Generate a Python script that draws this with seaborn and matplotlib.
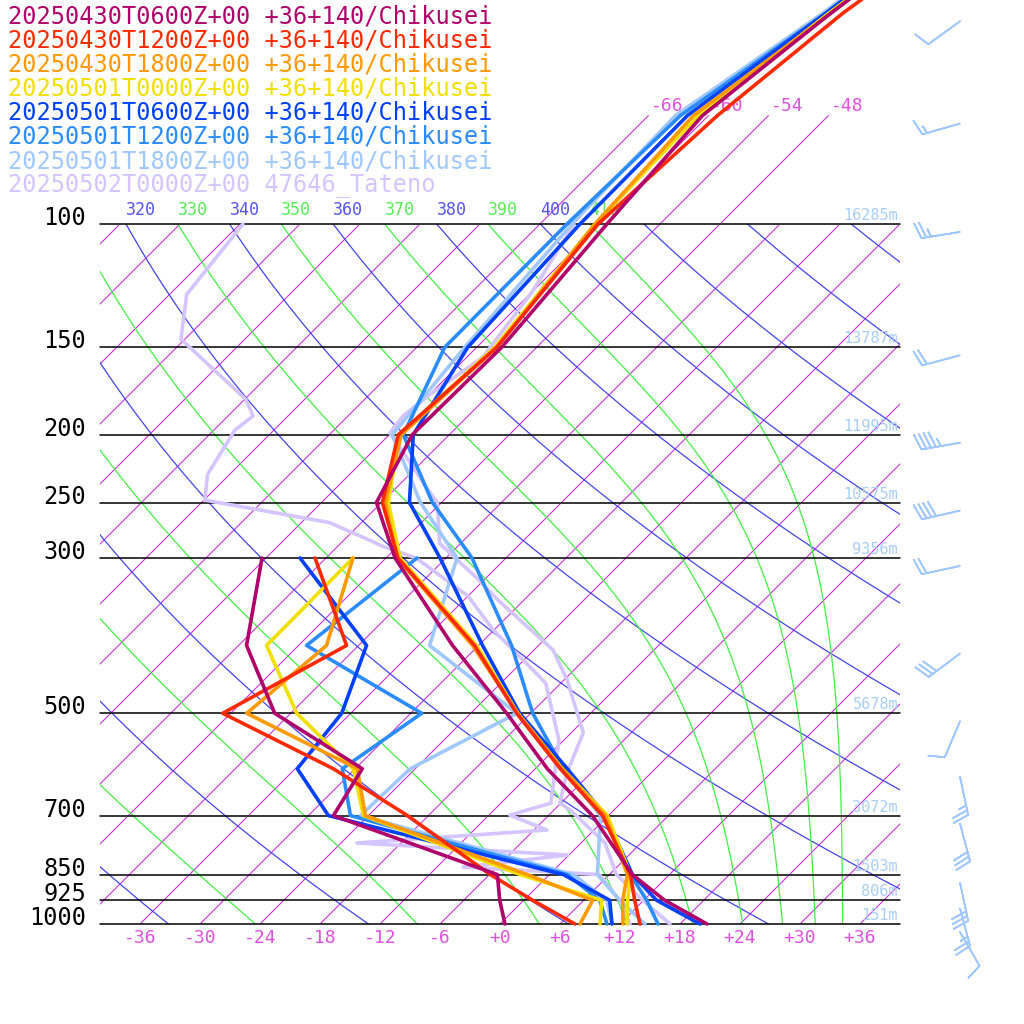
import numpy as np
import pandas as pd
import matplotlib
matplotlib.use("Agg")
import matplotlib.pyplot as plt
import seaborn as sns

# ---- data ----
p_std = [1000, 925, 850, 700, 600, 500, 400, 300, 250, 200, 150, 100, 70, 50, 30]
p_dew = [1000, 925, 850, 700, 600, 500, 400, 300]

t_0430_06 = [20.7, 14.1, 8.3, -1.6, -10.8, -20.4, -32.6, -47.1, -54.5, -57.7, -57.5, -59.3, -60.6, -58.0, -53.0]
td_0430_06 = [0.5, -2.4, -5.2, -27.5, -29.3, -43.6, -53.2, -60.4]
t_0430_12 = [14.0, 11.1, 8.1, -0.6, -9.5, -19.4, -30.4, -46.8, -53.9, -59.1, -58.0, -60.2, -59.1, -56.8, -51.0]
td_0430_12 = [7.5, 0.9, -5.9, -20.1, -32.2, -48.8, -43.2, -55.1]
t_0430_18 = [12.3, 9.9, 7.8, -0.3, -9.3, -19.3, -30.6, -46.9, -53.6, -58.8, -58.0, -60.5, -61.5, -58.0, -53.0]
td_0430_18 = [8.0, 6.9, -2.2, -24.3, -29.8, -46.4, -45.2, -51.3]
t_0501_00 = [12.7, 10.4, 8.1, -0.1, -9.3, -19.3, -30.2, -46.6, -53.3, -59.0, -58.2, -60.5, -61.0, -58.2, -53.0]
td_0501_00 = [10.0, 7.8, -2.9, -24.5, -30.2, -41.4, -51.2, -51.3]
t_0501_06 = [20.0, 13.3, 8.3, -0.3, -8.8, -19.1, -29.6, -42.6, -51.2, -57.6, -60.9, -62.0, -62.1, -58.5, -53.5]
td_0501_06 = [11.2, 8.6, 1.4, -28.0, -35.8, -36.9, -41.2, -56.6]
t_0501_12 = [15.8, 12.3, 8.1, -0.5, -9.2, -17.8, -26.7, -39.4, -48.9, -58.6, -63.2, -63.3, -62.8, -58.5, -53.5]
td_0501_12 = [10.7, 7.6, 1.8, -25.8, -31.3, -28.9, -47.2, -44.9]
t_0501_18 = [14.5, 9.6, 4.8, -0.8, -9.2, -19.4, -34.9, -40.9, -50.1, -59.7, -61.2, -62.8, -63.3, -58.8, -54.0]
td_0501_18 = [11.2, 8.3, 2.4, -24.8, -24.5, -19.4]

p_tat_t = [1000, 925, 850, 766, 687, 672, 609, 533, 448, 406, 344, 322, 286, 250, 238, 212, 199, 188, 176, 155, 125, 100]
t_tat = [17.0, 11.9, 6.7, 2.4, -4.4, -6.1, -8.4, -10.8, -17.7, -22.1, -32.7, -36.6, -44.1, -48.4, -51.0, -56.8, -60.1, -60.5, -60.0, -58.4, -60.0, -62.6]
p_tat_td = [1000, 925, 850, 829, 797, 766, 734, 699, 672, 546, 453, 438, 380, 340, 300, 289, 283, 267, 248, 228, 197, 188, 178, 146, 126, 100]
td_tat = [13.0, 9.6, 5.0, -9.4, -0.1, -22.4, -4.7, -9.9, -7.0, -12.5, -19.5, -21.5, -30.1, -36.0, -45.0, -49.4, -51.4, -57.2, -71.9, -74.2, -75.9, -75.5, -77.9, -90.4, -94.3, -95.7]

names = ["20250430T0600Z+00 +36+140/Chikusei", "20250430T1200Z+00 +36+140/Chikusei",
         "20250430T1800Z+00 +36+140/Chikusei", "20250501T0000Z+00 +36+140/Chikusei",
         "20250501T0600Z+00 +36+140/Chikusei", "20250501T1200Z+00 +36+140/Chikusei",
         "20250501T1800Z+00 +36+140/Chikusei", "20250502T0000Z+00 47646_Tateno"]
colors = ["#b0006a", "#ff2a00", "#ff9900", "#f0e000", "#0040ff", "#2a8cff", "#a0c8ff", "#d4c4ff"]

levels = [1000, 925, 850, 700, 500, 300, 250, 200, 150, 100]
heights = ["151m", "806m", "1503m", "3072m", "5678m", "9356m", "10575m", "11995m", "13787m", "16285m"]

wind_p = [1000, 925, 850, 700, 600, 500, 400, 300, 250, 200, 150, 100, 70, 50]
wind_dir = [150, 165, 168, 165, 168, 203, 233, 258, 257, 260, 255, 261, 254, 234]
wind_kt = [10, 25, 30, 30, 25, 10, 30, 20, 40, 45, 20, 25, 15, 10]

# ---- skew-T pixel mapping ----
def py(p):
    return 924 - 700 * np.log10(1000 / np.asarray(p, float))

def px(t, p):
    return 500 + 10 * (np.asarray(t, float) + 70 * np.log10(1000 / np.asarray(p, float)))

sns.set_style("white")
plt.rcParams["font.family"] = ["DejaVu Sans Mono"]
fig = plt.figure(figsize=(10.24, 10.24), dpi=100)
ax = fig.add_axes([0, 0, 1, 1])

box = plt.Rectangle((100, 224), 800, 700, transform=ax.transData, visible=False)
ax.add_patch(box)
box_hi = plt.Rectangle((100, 110), 800, 814, transform=ax.transData, visible=False)
ax.add_patch(box_hi)

pg = np.logspace(np.log10(1000), np.log10(70), 200)

# isotherms
for t in range(-150, 61, 6):
    top = 70 if -66 <= t <= -48 else 100
    pp = pg[pg >= top - 0.01]
    l, = ax.plot(px(t, pp), py(pp), color="#cc33dd", lw=0.8, zorder=1)
    l.set_clip_path(box_hi if top == 70 else box)
    if top == 70:
        ax.text(px(t, 70) + 2, py(70) - 1, f"{t}", color="#e050e0", fontsize=13, ha="left", va="bottom")
for t in range(-36, 37, 6):
    ax.text(px(t, 1000), 938, f"{t:+d}", color="#e050e0", fontsize=13, ha="center", va="center")

# dry adiabats
pd_ = np.logspace(3, 2, 200)
for th in range(200, 561, 20):
    tt = th * (pd_ / 1000) ** 0.2857 - 273.15
    l, = ax.plot(px(tt, pd_), py(pd_), color="#4444ee", lw=0.9, zorder=1)
    l.set_clip_path(box)
    x100 = px(th * 0.1 ** 0.2857 - 273.15, 100)
    if 100 <= x100 <= 600:
        ax.text(x100, 219, str(th), color="#5555ee", fontsize=12, ha="left", va="bottom")

# moist adiabats via theta-e
def theta_e(T, p):
    es = 6.112 * np.exp(17.67 * (T - 273.15) / (T - 29.65))
    rs = 0.622 * es / (p - es)
    return T * (1000 / p) ** 0.2857 * np.exp(2.5e6 * rs / (1004 * T))

for the in range(230, 411, 20):
    lo = np.full_like(pd_, 150.0)
    hi = np.full_like(pd_, 320.0)
    for _ in range(60):
        mid = (lo + hi) / 2
        big = theta_e(mid, pd_) > the
        hi = np.where(big, mid, hi)
        lo = np.where(big, lo, mid)
    tt = (lo + hi) / 2 - 273.15
    l, = ax.plot(px(tt, pd_), py(pd_), color="#44ee44", lw=0.9, zorder=1)
    l.set_clip_path(box)
    x100 = px(tt[-1], 100)
    if 100 <= x100 <= 620:
        ax.text(x100, 219, str(the), color="#55ee55", fontsize=12, ha="left", va="bottom")

# mandatory levels
for p, h in zip(levels, heights):
    ax.plot([100, 900], [py(p), py(p)], color="black", lw=1.1, zorder=2)
    ax.text(898, py(p) - 1, h, color="#a8cef5", fontsize=11, ha="right", va="bottom")
    ax.text(86, py(p) - 6, str(p), color="black", fontsize=17, ha="right", va="center")

# profiles
temps = [t_0430_06, t_0430_12, t_0430_18, t_0501_00, t_0501_06, t_0501_12, t_0501_18]
dews = [td_0430_06, td_0430_12, td_0430_18, td_0501_00, td_0501_06, td_0501_12, td_0501_18]
profiles = [(p_std, t, c) for t, c in zip(temps, colors)] + [(p_dew[:len(d)], d, c) for d, c in zip(dews, colors)]
profiles += [(p_tat_t, t_tat, colors[7]), (p_tat_td, td_tat, colors[7])]
for pp, tt, c in profiles[::-1]:
    df = pd.DataFrame({"x": px(tt, pp), "y": py(pp)})
    sns.lineplot(data=df, x="x", y="y", sort=False, estimator=None, color=c, lw=2.6, ax=ax, zorder=3)

# legend text
for i, (n, c) in enumerate(zip(names, colors)):
    ax.text(8, 16 + 24.2 * i, n, color=c, fontsize=17, ha="left", va="center")

# wind barbs
wd = np.radians(wind_dir)
spd = np.array(wind_kt, float)
u = -spd * np.sin(wd)
v = -spd * np.cos(wd)
ax.barbs(np.full(len(wind_p), 960.0), py(wind_p) + 8, u, v, color="#a0c8ff",
         length=7.5, linewidth=1.2, zorder=4)

ax.set_xlim(0, 1024)
ax.set_ylim(1024, 0)
ax.axis("off")
fig.savefig("out.png", dpi=100)
